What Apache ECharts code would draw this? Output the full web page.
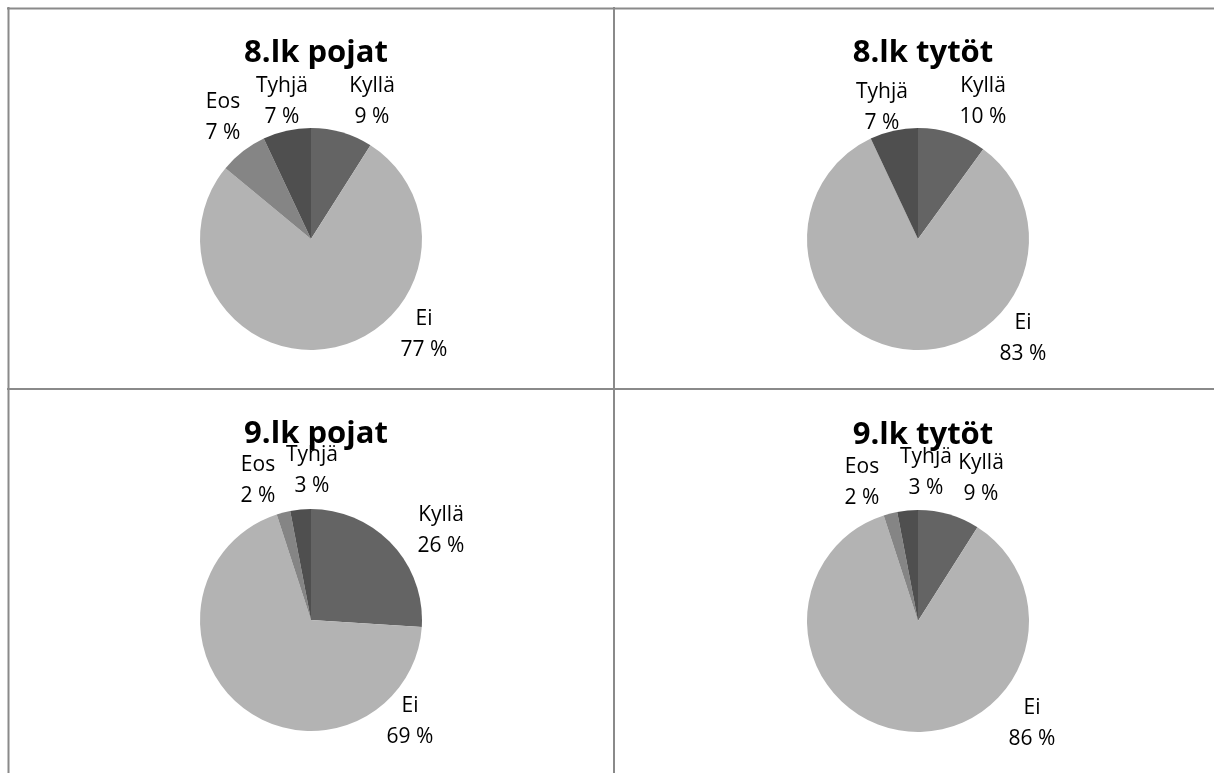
<!DOCTYPE html>
<html>
<head>
<meta charset="utf-8">
<script src="https://cdn.jsdelivr.net/npm/echarts@6/dist/echarts.min.js"></script>
<style>
  html, body { margin: 0; padding: 0; background: #fff; }
  #main { width: 1214px; height: 773px; }
</style>
</head>
<body>
<div id="main"></div>
<script>
// vastausvaihtoehdot ja osuudet (%)
var categories = ['Kyllä', 'Ei', 'Eos', 'Tyhjä'];
var titles = ['8.lk pojat', '8.lk tytöt', '9.lk pojat', '9.lk tytöt'];
var pojat8 = [9, 77, 7, 7];
var tytot8 = [10, 83, 0, 7];
var pojat9 = [26, 69, 2, 3];
var tytot9 = [9, 86, 2, 3];
var panelValues = [pojat8, tytot8, pojat9, tytot9];

var colors = {'Kyllä': '#646464', 'Ei': '#b3b3b3', 'Eos': '#858585', 'Tyhjä': '#4f4f4f'};
var centers = [[311, 239], [918, 239], [311, 620], [918, 621]];
var radius = 111;
// label placement relative to pie centre (like Excel put them)
var labelShift = [
  {'Kyllä': [61, -137], 'Ei': [113, 96], 'Eos': [-88, -121], 'Tyhjä': [-29, -137]},
  {'Kyllä': [65, -137], 'Ei': [105, 100], 'Tyhjä': [-36, -131]},
  {'Kyllä': [130, -89], 'Ei': [99, 102], 'Eos': [-53, -139], 'Tyhjä': [1, -149]},
  {'Kyllä': [63, -142], 'Ei': [114, 103], 'Eos': [-56, -138], 'Tyhjä': [8, -148]}
];

var myChart = echarts.init(document.getElementById('main'));

var title = [], series = [];
titles.forEach(function (t, i) {
  title.push({
    text: t,
    left: centers[i][0],
    top: centers[i][1] - 206,
    textAlign: 'center',
    textStyle: {fontFamily: 'Open Sans', fontWeight: 'bold', fontSize: 31, color: '#000'}
  });
  var data = [];
  categories.forEach(function (c, k) {
    if (panelValues[i][k] > 0) {
      data.push({name: c, value: panelValues[i][k], itemStyle: {color: colors[c]}});
    }
  });
  series.push({
    type: 'pie',
    center: centers[i],
    radius: radius,
    startAngle: 90,
    clockwise: true,
    animation: false,
    silent: true,
    itemStyle: {borderWidth: 0},
    label: {
      show: true,
      position: 'outside',
      fontFamily: 'Open Sans',
      fontSize: 21,
      lineHeight: 31,
      color: '#000',
      formatter: function (p) { return p.name + '\n' + p.value + ' %'; }
    },
    labelLine: {show: false},
    labelLayout: (function (idx) {
      return function (p) {
        var s = labelShift[idx][series[idx].data[p.dataIndex].name];
        return {
          x: centers[idx][0] + s[0],
          y: centers[idx][1] + s[1],
          align: 'center',
          verticalAlign: 'middle'
        };
      };
    })(i),
    data: data
  });
});

var lineStyle = {stroke: '#8a8a8a', lineWidth: 2};
myChart.setOption({
  backgroundColor: '#fff',
  title: title,
  graphic: [
    {type: 'line', shape: {x1: 7, y1: 8.5, x2: 1214, y2: 8.5}, style: lineStyle, z: -1},
    {type: 'line', shape: {x1: 8.5, y1: 7, x2: 8.5, y2: 773}, style: lineStyle, z: -1},
    {type: 'line', shape: {x1: 614, y1: 7, x2: 614, y2: 773}, style: lineStyle, z: -1},
    {type: 'line', shape: {x1: 7, y1: 389, x2: 1214, y2: 389}, style: lineStyle, z: -1}
  ],
  series: series
});
</script>
</body>
</html>
